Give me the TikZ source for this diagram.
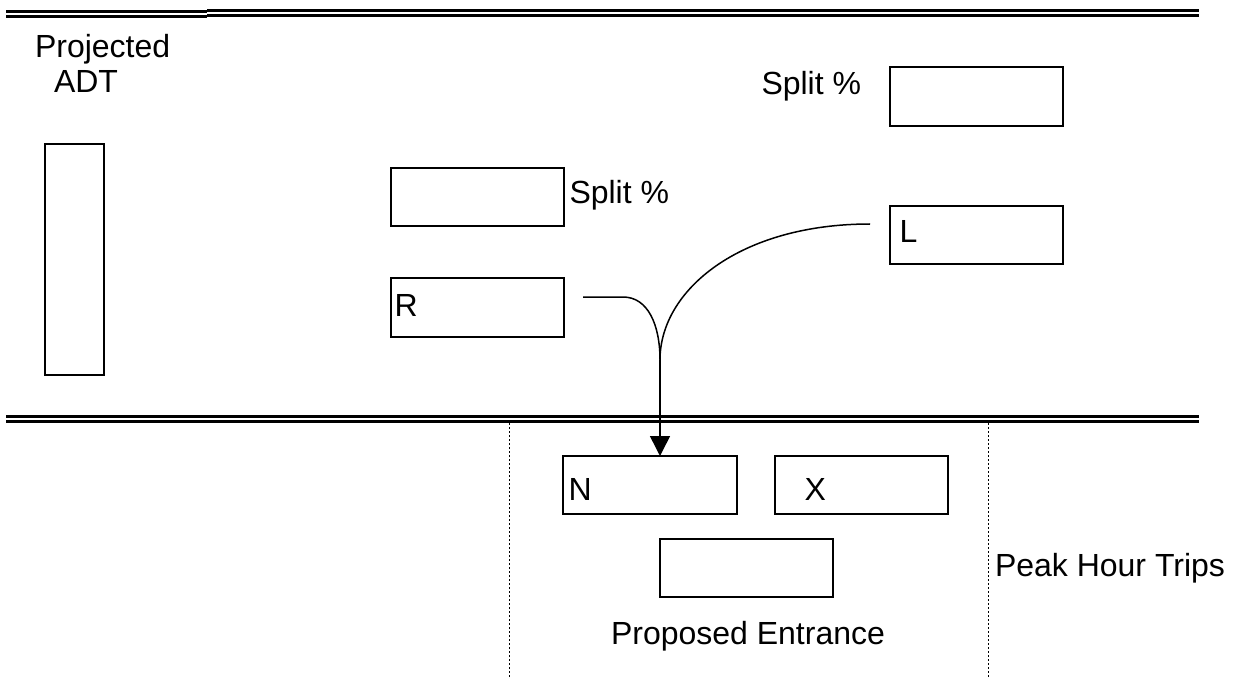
\documentclass[tikz,border=0pt]{standalone}
\usepackage{fontspec}
\setmainfont{Liberation Sans}
\usetikzlibrary{arrows.meta}
\begin{document}
\begin{tikzpicture}[x=1pt,y=-1pt,
  box/.style={draw, line width=1.5pt, inner sep=0pt, outer sep=0pt, minimum width=173pt, minimum height=58pt},
  txt/.style={inner sep=0pt, outer sep=0pt, anchor=base west, font=\fontsize{32}{36}\selectfont},
  road/.style={line width=3pt},
  curb/.style={line width=1pt, dash pattern=on 2pt off 2pt},
  flow/.style={line width=1.5pt}]
\useasboundingbox (0,0) rectangle (1237,679);
% roads
\draw[road] (6,11.7) -- (207,11.7);
\draw[road] (6,17) -- (207,17);
\draw[road] (207,10.7) -- (603,10.7);
\draw[road] (207,15.7) -- (603,15.7);
\draw[road] (603,10.5) -- (1199,10.5);
\draw[road] (603,15.3) -- (1199,15.3);
\draw[road] (6,416.2) -- (1199,416.2);
\draw[road] (6,421.5) -- (1199,421.5);
% dotted boundaries
\draw[curb] (509,423) -- (509,679);
\draw[curb] (988,423) -- (988,679);
% boxes
\node[box, minimum width=59pt, minimum height=231pt] (adt) at (74.5,259.5) {};
\node[box] (split1) at (477.5,197) {};
\node[box, minimum height=59pt] (rbox) at (477.5,307.5) {};
\node[box, minimum height=59pt] (split2) at (976.5,96.5) {};
\node[box] (lbox) at (976.5,235) {};
\node[box, minimum width=174pt] (nbox) at (650,485) {};
\node[box] (xbox) at (861.5,485) {};
\node[box] (pbox) at (746.5,568) {};
% texts
\node[txt] (t1) at (35,58) {Projected};
\node[txt] (t2) at (54,93) {ADT};
\node[txt] (t3) at (569.5,204) {Split \%};
\node[txt] (t4) at (761.5,95) {Split \%};
\node[txt] (t5) at (394.5,316) {R};
\node[txt] (t6) at (899.7,243) {L};
\node[txt] (t7) at (568.7,500) {N};
\node[txt] (t8) at (804.5,500) {X};
\node[txt] (t9) at (611,644) {Proposed Entrance};
\node[txt] (t10) at (995,576) {Peak Hour Trips};
% turning movements
\coordinate (lstart) at (870,224);
\coordinate (rstart) at (583,297);
\coordinate (rbend) at (623,297);
\coordinate (merge) at (660,360);
\draw[flow] (lstart) .. controls (740,224) and (660,290) .. (merge);
\draw[flow] (rstart) -- (rbend) .. controls (648,297) and (660,325) .. (merge);
\draw[flow, -{Triangle[length=20pt,width=20pt]}] (merge) -- (merge |- nbox.north);
\end{tikzpicture}
\end{document}
